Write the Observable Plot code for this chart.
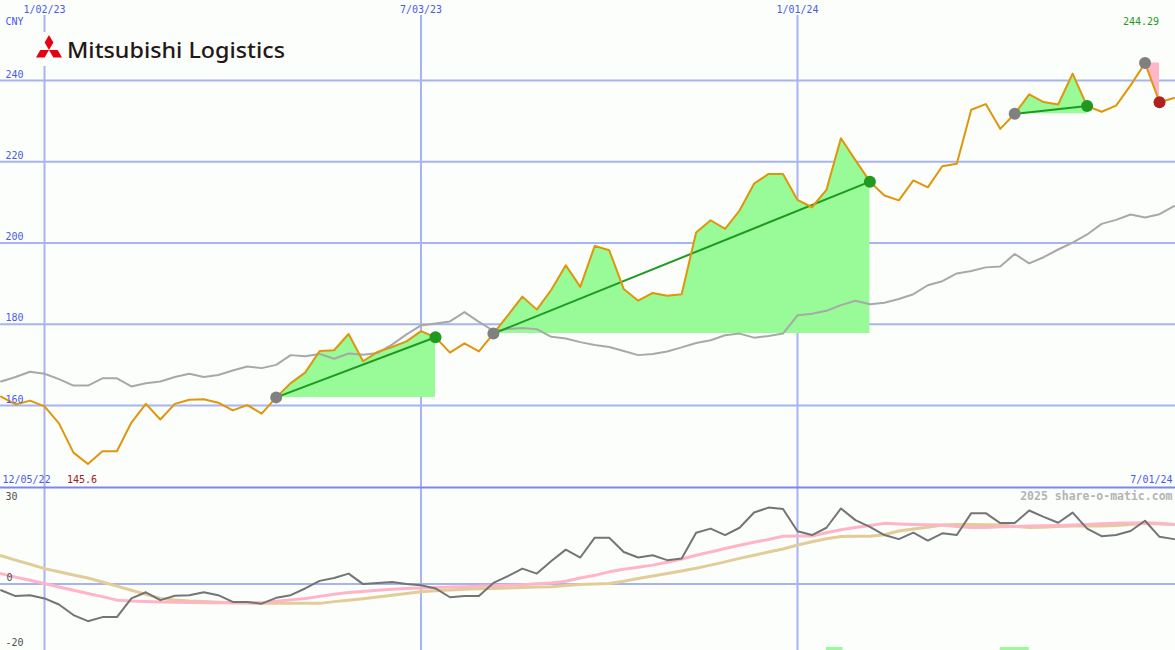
<!DOCTYPE html>
<html><head><meta charset="utf-8">
<script src="https://cdn.jsdelivr.net/npm/d3@7"></script>
<script src="https://cdn.jsdelivr.net/npm/@observablehq/plot@0.6"></script>
<style>
html,body{margin:0;padding:0;background:#fcfefc;}
#wrap{position:relative;width:1175px;height:650px;overflow:hidden;background:#fcfefc;}
#top{position:absolute;left:0;top:0;}
#bot{position:absolute;left:0;top:486px;}
#logo{position:absolute;left:33px;top:32px;background:#fcfefc;}
</style></head><body>
<div id="wrap"><div id="top"></div><div id="bot"></div>
<svg id="logo" width="258" height="34" viewBox="0 0 258 34">
  <polygon points="16,18 20.35,10.5 16,3 11.65,10.5" fill="#e60012"/>
  <polygon points="16,18 7.3,18 3,25.5 11.65,25.5" fill="#e60012"/>
  <polygon points="16,18 24.7,18 29,25.5 20.35,25.5" fill="#e60012"/>
  <text x="34" y="26" font-family="Noto Sans" font-size="22" font-weight="500" fill="#231815" textLength="218" lengthAdjust="spacingAndGlyphs">Mitsubishi Logistics</text>
</svg>
</div>
<script>
const dates = ["2022-12-12","2022-12-19","2022-12-26","2023-01-02","2023-01-09","2023-01-16","2023-01-23","2023-01-30","2023-02-06","2023-02-13","2023-02-20","2023-02-27","2023-03-06","2023-03-13","2023-03-20","2023-03-27","2023-04-03","2023-04-10","2023-04-17","2023-04-24","2023-05-01","2023-05-08","2023-05-15","2023-05-22","2023-05-29","2023-06-05","2023-06-12","2023-06-19","2023-06-26","2023-07-03","2023-07-10","2023-07-17","2023-07-24","2023-07-31","2023-08-07","2023-08-14","2023-08-21","2023-08-28","2023-09-04","2023-09-11","2023-09-18","2023-09-25","2023-10-02","2023-10-09","2023-10-16","2023-10-23","2023-10-30","2023-11-06","2023-11-13","2023-11-20","2023-11-27","2023-12-04","2023-12-11","2023-12-18","2023-12-25","2024-01-01","2024-01-08","2024-01-15","2024-01-22","2024-01-29","2024-02-05","2024-02-12","2024-02-19","2024-02-26","2024-03-04","2024-03-11","2024-03-18","2024-03-25","2024-04-01","2024-04-08","2024-04-15","2024-04-22","2024-04-29","2024-05-06","2024-05-13","2024-05-20","2024-05-27","2024-06-03","2024-06-10","2024-06-17","2024-06-24","2024-07-01"];
const price = [162.2,160.25,161.2,159.8,155.6,148.4,145.6,148.75,148.75,155.8,160.4,156.55,160.4,161.4,161.55,160.7,158.8,160.1,158.0,162.0,165.5,168.1,173.4,173.6,177.6,170.9,173.2,174.4,175.8,178.3,176.8,173.0,175.3,173.3,177.7,182.2,186.8,183.6,188.5,194.5,189.2,199.3,198.2,188.7,185.8,187.7,187.0,187.4,202.6,205.6,203.5,208.0,214.6,217.0,217.0,210.6,208.8,213.1,225.8,220.4,215.1,211.7,210.5,215.4,213.7,218.9,219.5,232.8,234.2,228.1,231.8,236.6,234.7,234.1,241.7,233.7,232.3,233.8,238.8,244.29,234.65,235.7];
const movingAvg = [165.9,167.0,168.3,167.8,166.5,164.9,164.9,166.7,166.7,164.7,165.5,165.9,167.0,167.8,167.0,167.5,168.6,169.6,169.2,170.0,172.4,172.1,172.7,171.5,172.8,172.5,172.9,175.0,177.5,179.7,180.2,180.7,183.0,180.6,178.4,178.8,179.1,178.8,176.9,176.5,175.6,174.9,174.4,173.4,172.4,172.7,173.3,174.3,175.4,176.05,177.3,177.7,176.7,177.1,177.7,182.2,182.6,183.3,184.7,185.8,184.9,185.3,186.2,187.4,189.6,190.6,192.5,193.1,194.0,194.2,197.3,195.0,196.5,198.4,200.1,202.1,204.7,205.7,207.0,206.3,207.1,209.1];
const momentum = [-2.1,-4.1,-3.8,-4.9,-7.0,-10.6,-12.7,-11.3,-11.3,-4.9,-2.8,-5.5,-4.0,-3.8,-2.8,-3.8,-6.1,-6.1,-6.7,-4.7,-3.8,-1.5,1.1,2.1,3.6,0.0,0.4,0.7,0.0,-0.4,-1.5,-4.5,-4.1,-4.1,0.4,2.7,5.3,3.6,7.9,11.8,9.1,15.9,15.9,11.0,9.1,9.9,8.2,8.8,17.6,19.0,16.8,19.3,24.5,26.2,25.7,18.1,16.8,19.3,25.9,21.9,19.6,16.8,15.4,17.6,14.9,17.4,16.8,24.3,24.3,20.9,20.9,25.2,23.0,21.0,24.5,19.0,16.4,16.8,18.2,21.7,16.2,15.4];
const fastAvg = [3.6,2.4,1.3,0.2,-1.0,-2.1,-3.2,-4.3,-5.5,-5.8,-6.0,-6.1,-6.2,-6.3,-6.4,-6.4,-6.4,-6.4,-6.4,-5.9,-5.4,-4.9,-4.2,-3.5,-2.9,-2.5,-2.1,-1.8,-1.5,-1.3,-1.2,-1.0,-0.9,-0.7,-0.6,-0.4,-0.2,0.1,0.4,1.0,2.1,3.0,4.2,5.1,5.8,6.5,7.5,8.6,9.9,11.0,12.2,13.3,14.3,15.3,16.4,16.5,16.5,17.6,18.6,19.4,20.1,20.8,20.6,20.4,20.3,20.2,19.7,19.4,19.4,19.6,19.7,19.9,20.0,20.1,20.2,20.4,20.7,20.8,20.9,21.0,20.8,20.4];
const slowAvg = [9.7,8.2,6.8,5.3,4.2,3.1,2.1,0.7,-0.7,-2.1,-3.5,-4.9,-5.4,-5.8,-6.0,-6.2,-6.4,-6.5,-6.6,-6.6,-6.6,-6.6,-6.6,-6.0,-5.5,-5.0,-4.4,-3.8,-3.2,-2.6,-2.3,-2.0,-1.8,-1.6,-1.5,-1.3,-1.2,-1.0,-0.9,-0.5,-0.1,0.0,0.2,1.0,1.9,2.8,3.6,4.5,5.4,6.5,7.6,8.8,9.9,11.0,12.0,13.4,14.5,15.5,16.3,16.4,16.4,16.9,18.2,18.9,19.5,20.2,20.4,20.4,20.3,20.2,19.8,19.4,19.5,19.7,19.9,19.9,19.9,20.1,20.4,20.8,20.6,20.4];
const xTickDates = ["2023-01-02","2023-07-03","2024-01-01"];
const xTickLabels = ["1/02/23","7/03/23","1/01/24"];
const yTicks = [160,180,200,220,240];
const upStart = ["2023-04-24","2023-08-07","2024-04-15"];
const upEnd = ["2023-07-10","2024-02-05","2024-05-20"];
const downStart = ["2024-06-17"];
const downEnd = ["2024-06-24"];
const signalStart = ["2024-01-15","2024-04-08"];
const signalEnd = ["2024-01-23","2024-04-22"];
const rangeLabels = ["12/05/22","7/01/24"];
const currency = "CNY";
const credit = "2025 share-o-matic.com";

const parse = d3.utcParse("%Y-%m-%d");
const data = dates.map((d,i)=>({date: parse(d), price: price[i], ma: movingAvg[i], mom: momentum[i], fast: fastAvg[i], slow: slowAvg[i]}));
const idx = s => data.findIndex(d => +d.date === +parse(s));
function seg(s, e){ const a = idx(s), b = idx(e); return data.slice(a, b+1).map(d => ({...d, base: data[a].price})); }
const ups = upStart.map((s,i)=>seg(s, upEnd[i]));
const downs = downStart.map((s,i)=>seg(s, downEnd[i]));
const links = upStart.map((s,i)=>({d1: parse(s), p1: data[idx(s)].price, d2: parse(upEnd[i]), p2: data[idx(upEnd[i])].price}));
const grayPts = upStart.concat(downStart).map(s=>data[idx(s)]);
const greenPts = upEnd.map(s=>data[idx(s)]);
const redPts = downEnd.map(s=>data[idx(s)]);
const maxPt = data.reduce((a,b)=>b.price>a.price?b:a);
const minPt = data.reduce((a,b)=>b.price<a.price?b:a);
const ticks = xTickDates.map((d,i)=>({date: parse(d), label: xTickLabels[i]}));
const signals = signalStart.map((s,i)=>({x1: parse(s), x2: parse(signalEnd[i])}));

const GRID = "#a8b4f0", BLUE = "#4a5ae6", FONT = "DejaVu Sans Mono";
const xScale = {type: "utc", domain: [parse("2023-01-02"), parse("2024-01-01")], range: [44, 797], axis: null};

const topPlot = Plot.plot({
  width: 1175, height: 487, margin: 0,
  style: {background: "transparent", fontFamily: FONT, fontSize: "10px"},
  x: xScale,
  y: {domain: [160, 240], range: [405, 80], axis: null},
  marks: [
    Plot.ruleY(yTicks, {stroke: GRID, strokeWidth: 2}),
    Plot.ruleX(ticks, {x: "date", stroke: GRID, strokeWidth: 2, insetTop: 15}),
    ...ups.map(s => Plot.areaY(s, {x: "date", y1: "base", y2: "price", fill: "#98fb98"})),
    ...downs.map(s => Plot.areaY(s, {x: "date", y1: "price", y2: "base", fill: "#ffb6c8"})),
    Plot.lineY(data, {x: "date", y: "ma", stroke: "#a8a8a8", strokeWidth: 2}),
    Plot.link(links, {x1: "d1", y1: "p1", x2: "d2", y2: "p2", stroke: "#1e9a1e", strokeWidth: 2}),
    Plot.lineY(data, {x: "date", y: "price", stroke: "#e0960a", strokeWidth: 2}),
    Plot.dot(grayPts, {x: "date", y: "price", r: 6, fill: "#808080"}),
    Plot.dot(greenPts, {x: "date", y: "price", r: 6, fill: "#1e9a1e"}),
    Plot.dot(redPts, {x: "date", y: "price", r: 6, fill: "#b0201e"}),
    Plot.text(yTicks, {y: d => d, frameAnchor: "left", dx: 5, dy: -6, textAnchor: "start", text: d => String(d), fill: BLUE}),
    Plot.text(ticks, {x: "date", frameAnchor: "top", dy: 9, lineAnchor: "middle", text: "label", fill: BLUE}),
    Plot.text([currency], {frameAnchor: "top-left", dx: 5, dy: 21, lineAnchor: "middle", textAnchor: "start", text: d => d, fill: BLUE}),
    Plot.text([maxPt], {x: "date", frameAnchor: "top", dy: 21, dx: -4, lineAnchor: "middle", text: d => d.price.toFixed(2), fill: "#1e9a1e"}),
    Plot.text([minPt], {x: "date", frameAnchor: "bottom", dy: -8, dx: -6, lineAnchor: "middle", text: d => String(d.price), fill: "#a01818"}),
    Plot.text([rangeLabels[0]], {frameAnchor: "bottom-left", dx: 2, dy: -8, lineAnchor: "middle", textAnchor: "start", text: d => d, fill: BLUE}),
    Plot.text([rangeLabels[1]], {frameAnchor: "bottom-right", dx: -3, dy: -8, lineAnchor: "middle", textAnchor: "end", text: d => d, fill: BLUE})
  ]
});
document.getElementById("top").appendChild(topPlot);

const botPlot = Plot.plot({
  width: 1175, height: 164, margin: 0,
  style: {background: "transparent", fontFamily: FONT, fontSize: "10px"},
  x: xScale,
  y: {domain: [-20, 30], range: [156, 10], axis: null},
  marks: [
    Plot.ruleY([0], {stroke: GRID, strokeWidth: 2}),
    Plot.ruleX(ticks, {x: "date", stroke: GRID, strokeWidth: 2}),
    Plot.frame({anchor: "top", stroke: "#7a88e8", strokeWidth: 2, insetTop: 1}),
    Plot.rect(signals, {x1: "x1", x2: "x2", y1: -21.7, y2: -25, fill: "#98fb98"}),
    Plot.lineY(data, {x: "date", y: "slow", stroke: "#e2cc98", strokeWidth: 3}),
    Plot.lineY(data, {x: "date", y: "fast", stroke: "#ffb4c8", strokeWidth: 3}),
    Plot.lineY(data, {x: "date", y: "mom", stroke: "#747474", strokeWidth: 2}),
    Plot.text([30, -20], {y: d => d, frameAnchor: "left", dx: 5, textAnchor: "start", text: d => String(d), fill: "#505050"}),
    Plot.text([0], {y: d => d, frameAnchor: "left", dx: 6, dy: -6, textAnchor: "start", text: d => String(d), fill: "#505050"}),
    Plot.text([credit], {frameAnchor: "top-right", dx: -3, dy: 10, lineAnchor: "middle", textAnchor: "end", text: d => d, fill: "#b4b4b4", fontWeight: "bold", fontSize: 11.5})
  ]
});
document.getElementById("bot").appendChild(botPlot);
</script>
</body></html>
